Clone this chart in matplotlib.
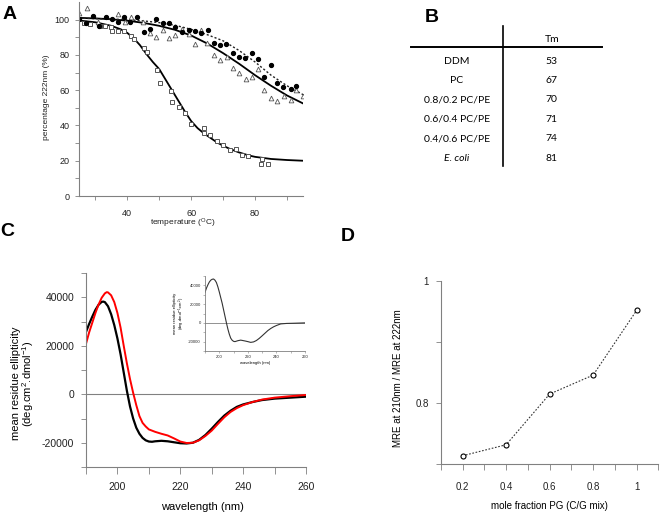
import matplotlib
matplotlib.use("Agg")
from matplotlib import pyplot as plt
import numpy as np

plt.rcParams['font.family'] = ['Liberation Sans', 'DejaVu Sans']
plt.rcParams['mathtext.default'] = 'regular'

# ---- panel A : thermal melts ----
ddm_t = [26.6, 28.2, 31.5, 33.0, 34.8, 35.3, 37.2, 39.1, 41.1, 42.2, 45.3, 46.2, 49.4, 50.2,
         53.8, 54.1, 56.2, 58.1, 60.0, 63.9, 63.9, 66.0, 68.0, 70.0, 72.1, 73.9, 76.0, 77.9,
         82.2, 82.0, 83.9]
ddm_y = [98, 97.5, 96.5, 96.5, 96, 93.7, 93.6, 93.6, 90.8, 89, 83.8, 81.6, 71.4, 64.3,
         59.3, 53.3, 50.4, 46.8, 41, 38.3, 36, 34.6, 31.3, 28.9, 26.3, 26.7, 23.3, 22.6,
         20.8, 18.4, 17.9]
ddm_fit_t = [25, 30, 35, 38, 40, 42, 44, 46, 48, 50, 52, 54, 55, 56, 58, 60, 62, 64, 66, 68,
             70, 72, 75, 78, 80, 85, 90, 95]
ddm_fit_y = [99.5, 98.5, 96.5, 94.5, 92.5, 89.5, 85.5, 80.5, 76, 72, 66, 60, 57, 54, 48, 42.5,
             38.5, 35.5, 33, 30.5, 28.5, 26.8, 24.7, 23, 22.2, 21, 20.4, 20]

pc_t = [25.0, 27.3, 30.9, 37.2, 39.3, 41.1, 45.0, 47.0, 49.1, 51.2, 53.0, 55.0, 57.1, 59.2,
        61.1, 63.0, 65.0, 67.0, 69.0, 71.1, 73.0, 75.0, 77.1, 78.9, 80.9, 82.9, 84.9, 86.9,
        89.0, 91.1, 92.9, 95.0]
pc_y = [103.5, 106.4, 98.7, 103.2, 98.4, 101.6, 98.4, 92.3, 90, 94, 89.6, 91.3, 94.8, 92,
        86.4, 94, 86.8, 79.8, 77.1, 78.9, 72.4, 70, 66.6, 67.3, 71.8, 59.9, 55.6, 53.8,
        56.6, 54.4, 59.9, 56.6]
pc_fit_t = [25, 30, 35, 40, 45, 50, 55, 60, 65, 70, 75, 80, 85, 90, 95]
pc_fit_y = [101, 100.7, 100.2, 99.4, 98.2, 96.5, 94.2, 91, 86.5, 81, 75, 68.5, 62.5, 57, 52.5]

ec_t = [25.0, 27.2, 29.2, 31.3, 33.2, 35.2, 37.2, 39.1, 41.0, 43.1, 45.2, 47.0, 49.1, 51.1,
        53.2, 55.1, 57.1, 59.2, 61.1, 63.1, 65.2, 67.0, 69.0, 71.0, 73.0, 75.0, 77.0, 78.9,
        80.9, 82.9, 84.9, 86.9, 88.8, 91.1, 92.9]
ec_y = [100.4, 98, 102.2, 96.6, 101.3, 100.4, 98.5, 101.3, 98.5, 101.3, 92.9, 94.8, 100.4, 98,
        98, 95.8, 92.9, 94.3, 93.8, 92.6, 94.3, 86.8, 85.5, 86.1, 81.2, 79, 78.5, 80.9,
        77.5, 67.3, 74.2, 64.3, 61.6, 60.7, 62.4]
ec_fit_t = [25, 30, 35, 40, 45, 50, 55, 60, 65, 70, 75, 80, 85, 90, 95]
ec_fit_y = [100.8, 100.6, 100.3, 100, 99.3, 98.3, 96.8, 94.5, 91.5, 88, 82.5, 76, 68.5, 62.5, 57.5]

# ---- panel B : table ----
tm_rows = ['DDM', 'PC', '0.8/0.2 PC/PE', '0.6/0.4 PC/PE', '0.4/0.6 PC/PE', 'E. coli']
tm_vals = [53, 67, 70, 71, 74, 81]

# ---- panel C : CD spectra ----
blk_wl = [190, 191, 192, 193, 194, 195, 195.5, 196, 197, 198, 199, 200, 201, 202, 203, 204,
          205, 206, 207, 208, 209, 210, 211, 212, 214, 216, 218, 220, 222, 224, 226, 228, 230,
          232, 234, 236, 238, 240, 243, 246, 250, 255, 260]
blk_y = [25700, 29000, 32000, 34800, 36900, 38100, 38200, 38000, 36300, 33000, 28500, 23000,
         16500, 9000, 1500, -5000, -10000, -13800, -16300, -18000, -19000, -19500, -19600,
         -19400, -19200, -19400, -19800, -20200, -20300, -20000, -18800, -16800, -14200,
         -11400, -8800, -6800, -5200, -4200, -3200, -2400, -1800, -1400, -1000]
red_wl = [190, 191, 192, 193, 194, 195, 196, 196.6, 197, 198, 199, 200, 201, 202, 203, 204,
          205, 206, 207, 208, 209, 210, 212, 214, 216, 218, 220, 222, 224, 226, 228, 230, 232,
          234, 236, 238, 240, 243, 246, 250, 255, 260]
red_y = [20800, 25500, 29500, 33500, 37000, 39800, 41600, 42100, 42000, 40800, 38000, 33500,
         27500, 20000, 12800, 6300, 600, -4500, -9000, -11800, -13300, -14500, -15500,
         -16300, -17000, -18200, -19500, -20100, -20000, -19000, -17200, -15000, -12200,
         -9500, -7300, -5700, -4500, -3200, -2200, -1400, -800, -300]
ins_wl = [190, 191, 192, 193, 194, 195, 196, 197, 198, 199, 200, 201, 202, 203, 204, 205, 206,
          207, 208, 209, 210, 211, 213, 215, 218, 220, 222, 224, 226, 228, 230, 232, 234, 236,
          238, 240, 243, 247, 252, 256, 260]
ins_y = [32600, 37000, 40500, 43500, 45500, 46500, 46800, 45500, 43000, 38500, 33000, 27000,
         21000, 14000, 7000, 0, -6500, -12000, -16300, -18500, -19700, -20000, -19000, -18400,
         -19300, -20000, -20800, -20300, -18800, -16500, -13800, -11000, -8200, -6000, -4200,
         -2800, -1100, -600, -400, -200, 0]

# ---- panel D ----
pg_frac = [0.2, 0.4, 0.6, 0.8, 1.0]
mre_ratio = [0.714, 0.732, 0.815, 0.846, 0.952]

W, H = 660, 517
fig = plt.figure(figsize=(6.6, 5.17), dpi=100)

GREY = '#808080'


def px_axes(l, t, r, b):
    return fig.add_axes([l / W, 1 - b / H, (r - l) / W, (b - t) / H])


def style(ax, lw=0.8):
    for s in ['top', 'right']:
        ax.spines[s].set_visible(False)
    for s in ['left', 'bottom']:
        ax.spines[s].set_color(GREY)
        ax.spines[s].set_linewidth(lw)
    ax.tick_params(colors=GREY, labelcolor='#222222', width=0.6)
    ax.patch.set_alpha(0)


# A
axA = px_axes(79.3, 2, 303, 196)
style(axA)
axA.plot(ddm_fit_t, ddm_fit_y, color='black', lw=1.3)
axA.plot(pc_fit_t, pc_fit_y, color='black', lw=1.3)
axA.plot(ec_fit_t, ec_fit_y, color='#222222', lw=1.0, ls=(0, (1.5, 1.5)))
axA.plot(ddm_t, ddm_y, ls='none', marker='s', ms=3.0, mfc='white', mec='#555555', mew=0.7)
axA.plot(pc_t, pc_y, ls='none', marker='^', ms=3.4, mfc='white', mec='#555555', mew=0.6)
axA.plot(ec_t, ec_y, ls='none', marker='o', ms=2.8, mfc='black', mec='black')
axA.set_xlim(25, 95)
axA.set_ylim(0, 110)
axA.set_xticks(range(30, 91, 10))
axA.set_xticklabels(['', '40', '', '60', '', '80', ''])
axA.set_yticks(range(0, 101, 10))
axA.set_yticklabels([str(v) if v % 20 == 0 else '' for v in range(0, 101, 10)])
axA.tick_params(labelsize=6.5, length=3)
axA.tick_params(axis='x', pad=6)
axA.tick_params(axis='y', pad=4)
axA.set_xlabel('temperature ($^{O}$C)', fontsize=6, color='#222222')
axA.set_ylabel('percentage 222nm (%)', fontsize=6, color='#222222')
axA.xaxis.set_label_coords(0.462, -0.105)
axA.yaxis.set_label_coords(-0.13, 0.51)

# B
fig.add_artist(plt.Line2D([502.7 / W, 502.7 / W], [1 - 26 / H, 1 - 166 / H], color='black', lw=1.2))
fig.add_artist(plt.Line2D([411 / W, 601.7 / W], [1 - 46.7 / H, 1 - 46.7 / H], color='black', lw=1.4))
fig.text(551.7 / W, 1 - 40 / H, 'Tm', ha='center', va='center', fontsize=7.5, family='Lato')
row_y = [61, 80.3, 100, 119.3, 138.7, 158.7]
for name, val, yy in zip(tm_rows, tm_vals, row_y):
    st = 'italic' if name == 'E. coli' else 'normal'
    fig.text(456.7 / W, 1 - yy / H, name, ha='center', va='center', fontsize=7.5,
             family='Lato', style=st)
    fig.text(551.7 / W, 1 - yy / H, str(val), ha='center', va='center', fontsize=7.5,
             family='Lato')

# C
axC = px_axes(86, 273, 306, 467)
style(axC)
axC.axhline(0, color=GREY, lw=0.8)
axC.plot(blk_wl, blk_y, color='black', lw=1.6)
axC.plot(red_wl, red_y, color='red', lw=1.4)
axC.set_xlim(190, 260)
axC.set_ylim(-30000, 50000)
axC.set_xticks(range(190, 261, 10))
axC.set_xticklabels([str(v) if v % 20 == 0 else '' for v in range(190, 261, 10)])
axC.set_yticks(range(-30000, 50001, 10000))
axC.set_yticklabels([str(v) if v % 20000 == 0 else '' for v in range(-30000, 50001, 10000)])
axC.tick_params(labelsize=7.5)
axC.tick_params(axis='x', length=5, pad=6)
axC.tick_params(axis='y', length=3.5, pad=5)
axC.set_xlabel('wavelength (nm)', fontsize=8)
axC.set_ylabel('mean residue ellipticity\n(deg.cm$^{2}$.dmol$^{-1}$)', fontsize=8, linespacing=1.0)
axC.xaxis.set_label_coords(0.53, -0.18)
axC.yaxis.set_label_coords(-0.225, 0.43)

# inset
axI = px_axes(205, 276, 305, 351)
style(axI, lw=0.6)
axI.axhline(0, color=GREY, lw=0.6)
axI.plot(ins_wl, ins_y, color='#333333', lw=0.8)
axI.set_xlim(190, 260)
axI.set_ylim(-30000, 50000)
axI.set_xticks(range(190, 261, 10))
axI.set_xticklabels([str(v) if v % 20 == 0 else '' for v in range(190, 261, 10)])
axI.set_yticks(range(-30000, 50001, 10000))
axI.set_yticklabels([str(v) if v % 20000 == 0 else '' for v in range(-30000, 50001, 10000)])
axI.tick_params(labelsize=3, length=1.5, pad=1.5, width=0.4)
axI.set_xlabel('wavelength (nm)', fontsize=3, labelpad=1)
axI.set_ylabel('mean residue ellipticity\n(deg.dmol$^{-1}$.cm$^{2}$)', fontsize=3, labelpad=1,
               linespacing=1.0)

# D
axD = px_axes(440.9, 281, 658.4, 464.3)
style(axD)
axD.plot(pg_frac, mre_ratio, color='#333333', lw=0.8, ls=(0, (1.5, 1.5)), marker='o', ms=3.6,
         mfc='white', mec='black', mew=0.8)
axD.set_xlim(0.1, 1.1)
axD.set_ylim(0.7, 1.0)
xt = [0.1, 0.2, 0.3, 0.4, 0.5, 0.6, 0.7, 0.8, 0.9, 1.0, 1.1]
axD.set_xticks(xt)
axD.set_xticklabels(['', '0.2', '', '0.4', '', '0.6', '', '0.8', '', '1', ''])
axD.set_yticks([0.7, 0.8, 0.9, 1.0])
axD.set_yticklabels(['', '0.8', '', '1'])
axD.tick_params(labelsize=7)
axD.tick_params(axis='x', length=4, pad=9)
axD.tick_params(axis='y', length=3.5, pad=5)
axD.set_xlabel('mole fraction PG (C/G mix)', fontsize=7)
axD.set_ylabel('MRE at 210nm / MRE at 222nm', fontsize=7)
axD.xaxis.set_label_coords(0.5, -0.2)
axD.yaxis.set_label_coords(-0.173, 0.47)

# panel letters
for lab, x, y in [('A', 9.5, 14.5), ('B', 432, 17), ('C', 7.5, 232), ('D', 348, 236.5)]:
    fig.text(x / W, 1 - y / H, lab, fontsize=14, fontweight='bold', ha='center', va='center')

fig.savefig('out.png', dpi=100)
